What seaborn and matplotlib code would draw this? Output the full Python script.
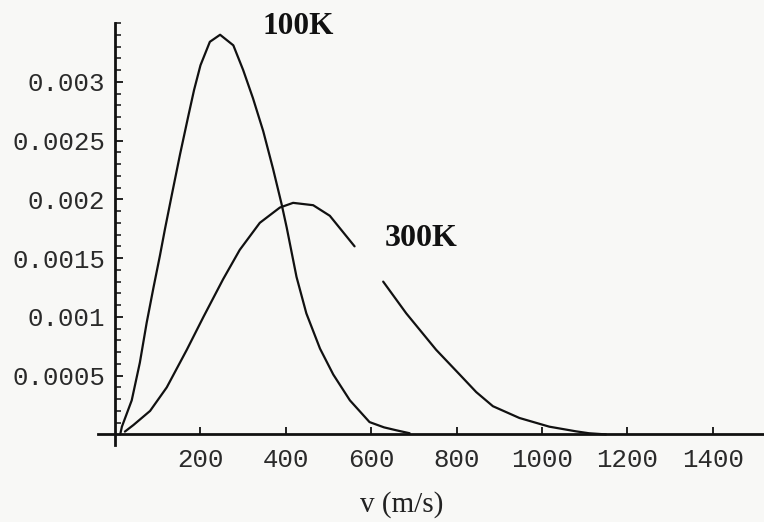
import numpy as np
import pandas as pd
import matplotlib
matplotlib.use("Agg")
import matplotlib.pyplot as plt
import seaborn as sns

# ---- data ----
v_100K = [12, 16, 39, 58, 74, 90, 105, 117, 133, 152, 171, 185, 200, 222, 246,
          277, 300, 323, 347, 370, 390, 402, 425, 448, 480, 511, 550, 596, 630, 659, 690]
f_100K = [0.0, 0.000066, 0.00029, 0.00061, 0.00095, 0.00125, 0.00152, 0.00175,
          0.00204, 0.00238, 0.00270, 0.00293, 0.00314, 0.00334, 0.0034, 0.00331,
          0.0031, 0.00286, 0.00258, 0.00226, 0.00196, 0.00176, 0.00134, 0.00103,
          0.00073, 0.00051, 0.00029, 0.000105, 0.00006, 0.000035, 0.00001]

v_300K_a = [23, 43, 82, 121, 168, 207, 253, 292, 339, 386, 417, 464, 503, 561]
f_300K_a = [0.000024, 0.00008, 0.0002, 0.0004, 0.00072, 0.00100, 0.00132,
            0.00157, 0.0018, 0.00193, 0.00197, 0.00195, 0.00186, 0.0016]
v_300K_b = [628, 682, 752, 807, 846, 885, 947, 1017, 1080, 1110, 1150]
f_300K_b = [0.0013, 0.00103, 0.00072, 0.00051, 0.00036, 0.00024, 0.00014,
            0.000066, 0.000026, 0.00001, 0.0]

x_ticks = [200, 400, 600, 800, 1000, 1200, 1400]
x_tick_labels = ["200", "400", "600", "800", "1000", "1200", "1400"]
y_ticks = [0.0005, 0.001, 0.0015, 0.002, 0.0025, 0.003]
y_tick_labels = ["0.0005", "0.001", "0.0015", "0.002", "0.0025", "0.003"]
curve_labels = ["100K", "300K"]
x_label = "v (m/s)"

sns.set_style("white")
plt.rcParams["font.family"] = ["DejaVu Sans"]

bg = "#f8f8f6"
fig = plt.figure(figsize=(7.64, 5.22), dpi=100, facecolor=bg)
ax = fig.add_axes([98 / 764, 77 / 522, 666 / 764, 422 / 522])
ax.set_facecolor(bg)

df100 = pd.DataFrame({"v": v_100K, "f": f_100K})
df300a = pd.DataFrame({"v": v_300K_a, "f": f_300K_a})
df300b = pd.DataFrame({"v": v_300K_b, "f": f_300K_b})
for d in (df100, df300a, df300b):
    sns.lineplot(data=d, x="v", y="f", ax=ax, color="#111111", lw=1.6,
                 estimator=None, sort=False)

ax.set_xlim(-40, 1520)
ax.set_ylim(-0.00009, 0.0035)

for s in ("top", "right"):
    ax.spines[s].set_visible(False)
ax.spines["left"].set_position(("data", 0))
ax.spines["bottom"].set_position(("data", 0))
for s in ("left", "bottom"):
    ax.spines[s].set_color("#111111")
    ax.spines[s].set_linewidth(2.0)

ax.set_xticks(x_ticks)
ax.set_xticklabels(x_tick_labels)
ax.set_yticks(y_ticks)
ax.set_yticklabels(y_tick_labels)
ax.set_yticks(np.arange(0.0001, 0.00351, 0.0001), minor=True)

for lab in ax.get_xticklabels() + ax.get_yticklabels():
    lab.set_fontfamily("Liberation Mono")
    lab.set_fontsize(18.5)
    lab.set_color("#2a2a2a")
ax.tick_params(axis="x", which="major", direction="in", length=5, width=1.3,
               pad=10, colors="#111111", labelcolor="#2a2a2a", bottom=True)
ax.tick_params(axis="y", which="major", direction="in", length=6, width=1.3,
               pad=7, colors="#111111", labelcolor="#2a2a2a", left=True)
ax.tick_params(axis="y", which="minor", direction="in", length=4, width=1.1,
               colors="#111111", left=True)

ax.set_xlabel("")
ax.set_ylabel("")

ax.text(428, 0.00347, curve_labels[0], fontfamily="Liberation Serif",
        fontweight="bold", fontsize=22.5, ha="center", va="center", color="#111111")
ax.text(717, 0.00167, curve_labels[1], fontfamily="Liberation Serif",
        fontweight="bold", fontsize=23, ha="center", va="center", color="#111111")

fig.text(402 / 764, 1 - 505 / 522, x_label, fontfamily="Liberation Serif",
         fontsize=21, ha="center", va="center", color="#222222")

fig.savefig("out.png", dpi=100, facecolor=bg)
